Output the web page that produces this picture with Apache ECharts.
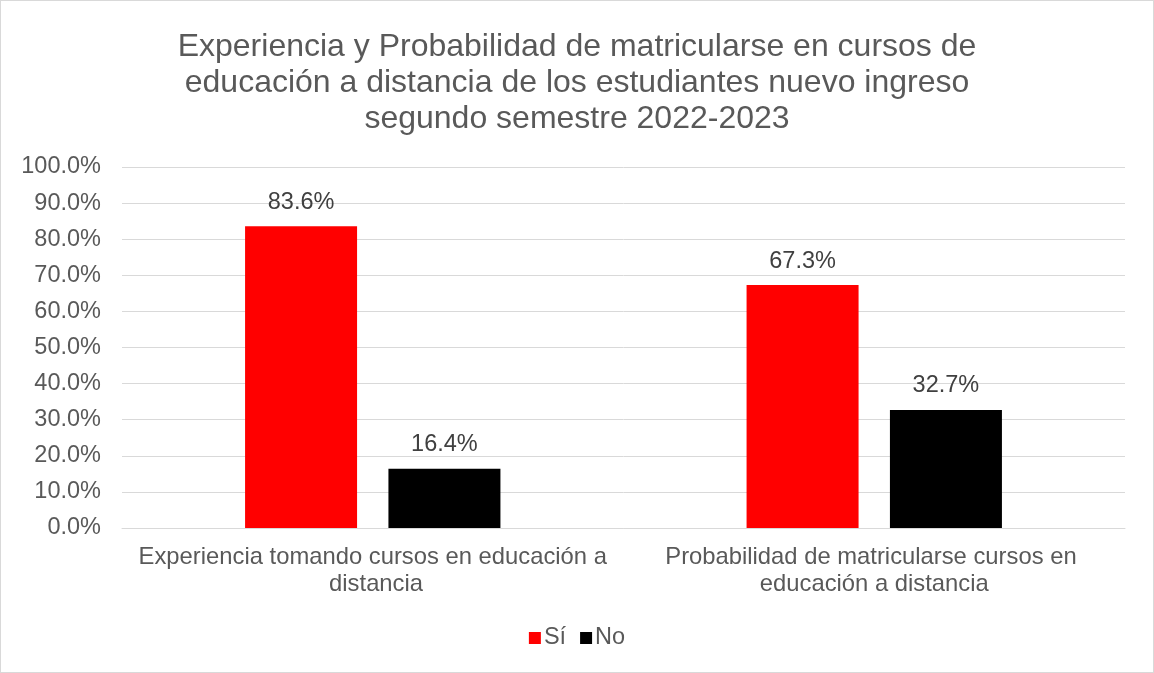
<!DOCTYPE html>
<html>
<head>
<meta charset="utf-8">
<script src="https://cdn.jsdelivr.net/npm/echarts@6/dist/echarts.min.js"></script>
<style>
  html, body { margin: 0; padding: 0; background: #fff; }
  #chart { width: 1152px; height: 671px; border: 1px solid #d9d9d9; }
</style>
</head>
<body>
<div id="chart"></div>
<script>
  // categorías y valores (%)
  const categories = [
    'Experiencia tomando cursos en educación a distancia',
    'Probabilidad de matricularse cursos en educación a distancia'
  ];
  const si = [83.6, 67.3];
  const no = [16.4, 32.7];

  const myChart = echarts.init(document.getElementById('chart'));

  const labelStyle = {
    show: true,
    position: 'top',
    distance: 12,
    formatter: p => p.value.toFixed(1) + '%',
    color: '#404040',
    fontSize: 23.5,
    fontFamily: 'Liberation Sans, Arial'
  };

  myChart.setOption({
    textStyle: { fontFamily: 'Liberation Sans, Arial' },
    title: {
      text: 'Experiencia y Probabilidad de matricularse en cursos de\neducación a distancia de los estudiantes nuevo ingreso\nsegundo semestre 2022-2023',
      left: 'center',
      top: 23,
      textStyle: {
        color: '#595959',
        fontSize: 32,
        fontWeight: 'normal',
        lineHeight: 36,
        fontFamily: 'Liberation Sans, Arial'
      }
    },
    legend: {
      data: ['Sí', 'No'],
      top: 620,
      left: 'center',
      itemWidth: 12,
      itemHeight: 12,
      itemGap: 14,
      icon: 'rect',
      textStyle: { color: '#595959', fontSize: 23.5, padding: [0, 0, 0, -2] }
    },
    grid: {
      left: 121,
      right: 28,
      top: 166,
      bottom: 144
    },
    xAxis: {
      type: 'category',
      data: categories,
      axisLine: { lineStyle: { color: '#d9d9d9' } },
      axisTick: { show: false },
      axisLabel: {
        interval: 0,
        color: '#595959',
        fontSize: 23.8,
        width: 480,
        overflow: 'break',
        lineHeight: 27,
        margin: 16
      }
    },
    yAxis: {
      type: 'value',
      min: 0,
      max: 100,
      interval: 10,
      axisLine: { show: false },
      axisTick: { show: false },
      splitLine: { lineStyle: { color: '#d9d9d9' } },
      axisLabel: {
        color: '#595959',
        fontSize: 23.5,
        margin: 21,
        formatter: v => v.toFixed(1) + '%'
      }
    },
    series: [
      {
        name: 'Sí',
        type: 'bar',
        data: si,
        barWidth: 112,
        barGap: '28%',
        itemStyle: { color: '#ff0000' },
        label: labelStyle
      },
      {
        name: 'No',
        type: 'bar',
        data: no,
        barWidth: 112,
        itemStyle: { color: '#000000' },
        label: labelStyle
      }
    ]
  });
</script>
</body>
</html>
